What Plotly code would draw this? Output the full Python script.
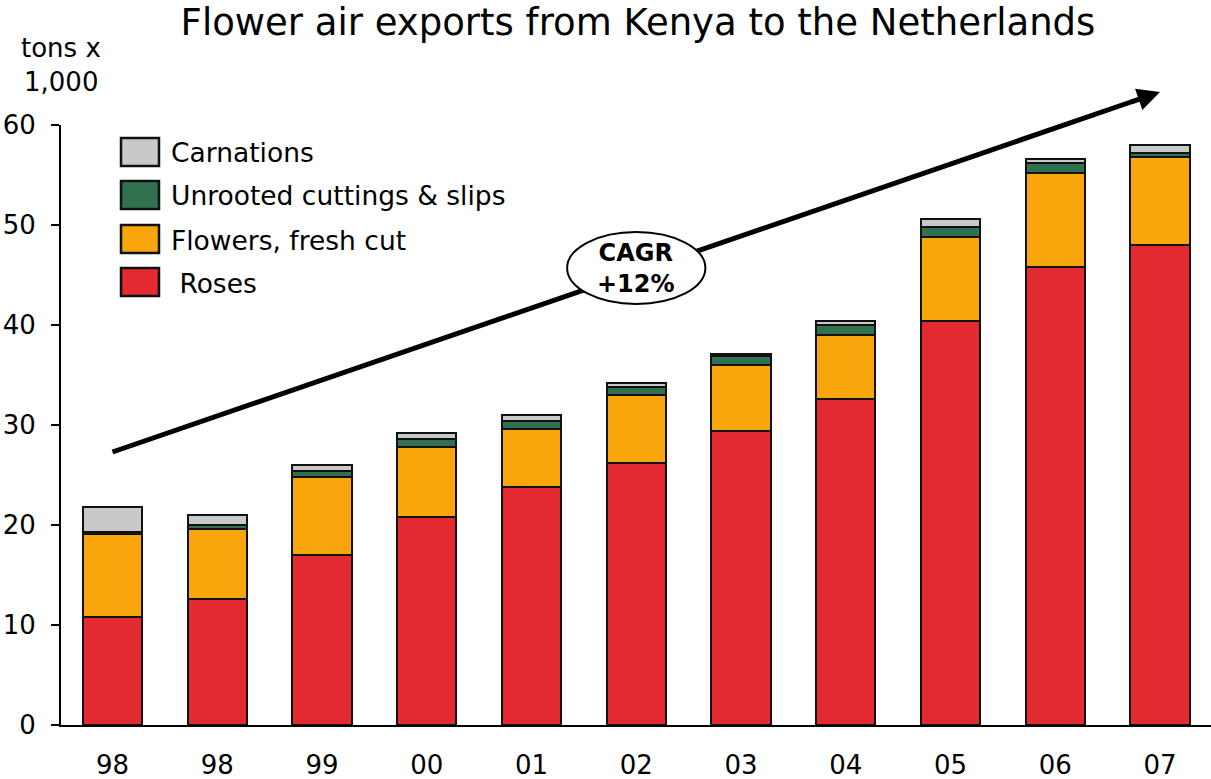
import plotly.graph_objects as go

# ---- data (tons x 1,000) ----
years = ["98", "98", "99", "00", "01", "02", "03", "04", "05", "06", "07"]
roses = [10.8, 12.6, 17.0, 20.8, 23.8, 26.2, 29.4, 32.6, 40.4, 45.8, 48.0]
flowers_fresh_cut = [8.3, 7.0, 7.8, 7.0, 5.8, 6.8, 6.6, 6.4, 8.4, 9.4, 8.8]
unrooted_cuttings = [0.2, 0.4, 0.6, 0.8, 0.8, 0.8, 0.9, 1.0, 1.0, 1.0, 0.4]
carnations = [2.5, 1.0, 0.6, 0.6, 0.6, 0.4, 0.2, 0.4, 0.8, 0.4, 0.8]

series_names = [" Roses", "Flowers, fresh cut", "Unrooted cuttings & slips", "Carnations"]
series_values = [roses, flowers_fresh_cut, unrooted_cuttings, carnations]
series_colors = ["#E42A31", "#F9A60C", "#31714F", "#C8C9C8"]

cagr_label = "CAGR<br>+12%"
title_text = "Flower air exports from Kenya to the Netherlands"
y_ticks = [0, 10, 20, 30, 40, 50, 60]

FONT = "DejaVu Sans"
W, H = 1211, 779
ML, MR, MT, MB = 61, 0, 125, 54
PW, PH = W - ML - MR, H - MT - MB

# x range such that bar centres sit where they should
step_px = 104.75
first_center_px = 112.5
x_min = -(first_center_px - ML) / step_px
x_max = x_min + PW / step_px
y_min, y_max = 0, 60

x_idx = list(range(len(years)))

fig = go.Figure()
for name, vals, col in zip(series_names, series_values, series_colors):
    fig.add_trace(go.Bar(
        x=x_idx, y=vals, name=name, width=0.565,
        marker=dict(color=col, line=dict(color="#111111", width=2)),
        showlegend=False,
    ))


def px2paper_x(p):
    return (p - ML) / PW


def px2paper_y(p):
    return (H - MB - p) / PH


def data2paper_x(v):
    return (v - x_min) / (x_max - x_min)


def data2paper_y(v):
    return (v - y_min) / (y_max - y_min)


shapes = []
annotations = []

# ---- manual legend (large boxes) ----
legend_order = list(zip(series_names, series_colors))[::-1]  # Carnations first
row_centers_px = [152, 195, 239, 282]
for (name, col), cy in zip(legend_order, row_centers_px):
    shapes.append(dict(
        type="rect", xref="paper", yref="paper",
        x0=px2paper_x(121), x1=px2paper_x(159),
        y0=px2paper_y(cy + 14), y1=px2paper_y(cy - 14),
        fillcolor=col, line=dict(color="#111111", width=2.5),
    ))
    annotations.append(dict(
        xref="paper", yref="paper", x=px2paper_x(169), y=px2paper_y(cy + 1),
        xanchor="left", yanchor="middle", showarrow=False,
        text=name.replace(" ", "&nbsp;", 1) if name.startswith(" ") else name,
        font=dict(family=FONT, size=26.5, color="#000000"),
    ))

# ---- CAGR trend arrow ----
arrow_start = (0.0, 27.3)
arrow_end = (10.0, 63.3)
t_line_end = 0.975
lx1 = arrow_start[0] + (arrow_end[0] - arrow_start[0]) * t_line_end
ly1 = arrow_start[1] + (arrow_end[1] - arrow_start[1]) * t_line_end
shapes.append(dict(
    type="line", xref="paper", yref="paper",
    x0=data2paper_x(arrow_start[0]), y0=data2paper_y(arrow_start[1]),
    x1=data2paper_x(lx1), y1=data2paper_y(ly1),
    line=dict(color="#000000", width=5),
))
annotations.append(dict(
    xref="paper", yref="paper",
    x=data2paper_x(arrow_end[0]), y=data2paper_y(arrow_end[1]),
    ax=-30, ay=10.3, axref="pixel", ayref="pixel",
    showarrow=True, arrowhead=2, arrowsize=0.9, arrowwidth=5,
    arrowcolor="#000000", text="", standoff=0,
))

# ---- CAGR ellipse ----
ell_cx, ell_cy = 5.0, 45.7
ell_rx, ell_ry = 0.66, 3.6
shapes.append(dict(
    type="circle", xref="paper", yref="paper",
    x0=data2paper_x(ell_cx - ell_rx), x1=data2paper_x(ell_cx + ell_rx),
    y0=data2paper_y(ell_cy - ell_ry), y1=data2paper_y(ell_cy + ell_ry),
    fillcolor="#FFFFFF", line=dict(color="#000000", width=2),
))
annotations.append(dict(
    xref="paper", yref="paper",
    x=data2paper_x(ell_cx), y=data2paper_y(ell_cy),
    xanchor="center", yanchor="middle", showarrow=False,
    text="<b>" + cagr_label.replace("<br>", "</b><br><b>") + "</b>",
    font=dict(family=FONT, size=24, color="#000000"),
))

# ---- axis unit label ----
annotations.append(dict(
    xref="paper", yref="paper", x=px2paper_x(61), y=px2paper_y(48),
    xanchor="center", yanchor="middle", showarrow=False,
    text="tons x", font=dict(family=FONT, size=26, color="#000000"),
))
annotations.append(dict(
    xref="paper", yref="paper", x=px2paper_x(61), y=px2paper_y(82),
    xanchor="center", yanchor="middle", showarrow=False,
    text="1,000", font=dict(family=FONT, size=26, color="#000000"),
))

fig.update_layout(
    barmode="stack",
    width=W, height=H,
    margin=dict(l=ML, r=MR, t=MT, b=MB, pad=0),
    paper_bgcolor="#FFFFFF", plot_bgcolor="#FFFFFF",
    font=dict(family=FONT, size=26, color="#000000"),
    title=dict(
        text=title_text, x=638 / W, xanchor="center",
        y=1 - 22 / H, yanchor="middle", yref="container",
        font=dict(family=FONT, size=37, color="#000000"),
    ),
    xaxis=dict(
        range=[x_min, x_max], tickvals=x_idx, ticktext=years,
        showgrid=False, zeroline=False, showline=True,
        linecolor="#000000", linewidth=2, ticks="",
        tickfont=dict(family=FONT, size=26, color="#000000"),
        ticklabelstandoff=16,
    ),
    yaxis=dict(
        range=[y_min, y_max], tickvals=y_ticks,
        showgrid=False, zeroline=False, showline=True,
        linecolor="#000000", linewidth=2,
        ticks="outside", ticklen=8, tickwidth=2, tickcolor="#000000",
        tickfont=dict(family=FONT, size=26, color="#000000"),
        ticklabelstandoff=10,
    ),
    shapes=shapes,
    annotations=annotations,
    bargap=0.44,
)

fig.write_html(
    "out.html",
    config={"displayModeBar": False},
    post_script="document.body.style.margin='0';",
)
